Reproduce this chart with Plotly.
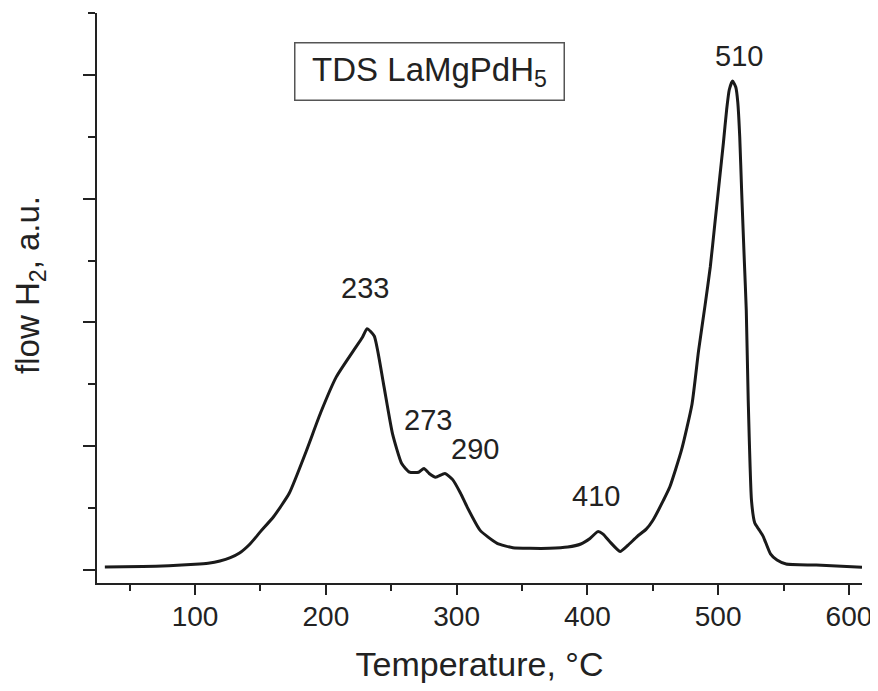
import plotly.graph_objects as go

# temperature (C) and H2 flow (a.u.)
temperature = [31, 60, 80, 100, 110, 119, 127, 134, 142, 150, 160, 172, 185, 196, 208, 221,
               228, 231.5, 237, 244, 251, 258, 264, 271, 275, 279, 284, 291, 297, 303, 308,
               318, 331, 343, 356, 371, 385, 395, 402, 408, 412, 417, 425, 431, 438, 445,
               450, 458, 463, 472, 480, 485, 490, 494, 497.5, 501, 504, 506.5, 508.5, 511,
               513.5, 515, 516.5, 518, 520, 521.5, 523, 525.5, 528, 531, 534.5, 540, 545,
               552, 575, 610]
flow = [0.024, 0.028, 0.035, 0.046, 0.055, 0.073, 0.1, 0.137, 0.21, 0.31, 0.43, 0.62, 0.96,
        1.27, 1.56, 1.77, 1.88, 1.95, 1.89, 1.51, 1.10, 0.86, 0.79, 0.79, 0.82, 0.78, 0.75,
        0.78, 0.73, 0.62, 0.51, 0.32, 0.215, 0.18, 0.175, 0.175, 0.185, 0.21, 0.255, 0.31,
        0.29, 0.23, 0.15, 0.2, 0.27, 0.33, 0.40, 0.56, 0.67, 0.97, 1.34, 1.77, 2.14, 2.45,
        2.8, 3.15, 3.45, 3.72, 3.88, 3.95, 3.9, 3.78, 3.5, 3.05, 2.5, 2.1, 1.37, 0.56, 0.38,
        0.33, 0.27, 0.13, 0.08, 0.048, 0.04, 0.022]

peak_labels = ["233", "273", "290", "410", "510"]
peak_x = [230, 278, 314, 406.6, 516]
peak_y = [2.28, 1.21, 0.98, 0.6, 4.15]

font = "Liberation Sans, Arial, sans-serif"
ink = "#222222"

fig = go.Figure()
fig.add_trace(go.Scatter(x=temperature, y=flow, mode="lines",
                         line=dict(color="#1a1a1a", width=3, shape="spline", smoothing=0.5),
                         showlegend=False, hoverinfo="skip"))

for lab, px, py in zip(peak_labels, peak_x, peak_y):
    fig.add_annotation(x=px, y=py, text=lab, showarrow=False,
                       font=dict(family=font, size=29, color=ink))

fig.add_annotation(xref="paper", yref="paper", x=0.435, y=0.897,
                   xanchor="center", yanchor="middle",
                   text="TDS LaMgPdH<sub>5</sub>", showarrow=False,
                   font=dict(family=font, size=33, color=ink),
                   bordercolor="#555555", borderwidth=1.5, borderpad=3,
                   width=262, height=50, bgcolor="white")

# y title placed by hand (it sits a bit above the axis middle)
fig.add_annotation(xref="paper", yref="paper", x=-0.0876, y=0.523,
                   xanchor="center", yanchor="middle", textangle=-90,
                   text="flow H<sub>2</sub>, a.u.", showarrow=False,
                   font=dict(family=font, size=33, color=ink))

fig.update_xaxes(range=[25, 610], showline=True, linecolor="#222", linewidth=2,
                 ticks="outside", ticklen=10, tickwidth=2, tickcolor="#222",
                 tick0=0, dtick=100, showgrid=False, zeroline=False, automargin=False,
                 ticklabelstandoff=-3,
                 minor=dict(ticks="outside", ticklen=6, tickwidth=2, tickcolor="#222", dtick=50),
                 tickfont=dict(family=font, size=28, color=ink),
                 title=dict(text="Temperature, °C", font=dict(family=font, size=34, color=ink),
                            standoff=22))
fig.update_yaxes(range=[-0.105, 4.5], showline=True, linecolor="#222", linewidth=2,
                 ticks="outside", ticklen=12, tickwidth=2, tickcolor="#222",
                 tick0=0, dtick=1, showgrid=False, zeroline=False, showticklabels=False,
                 automargin=False,
                 minor=dict(ticks="outside", ticklen=7, tickwidth=2, tickcolor="#222", dtick=0.5))

# page body has an 8px margin, so the figure is 8px smaller and margins shifted
fig.update_layout(width=870, height=683, plot_bgcolor="white", paper_bgcolor="white",
                  margin=dict(l=89, r=16, t=5, b=108))

fig.write_html("out.html")
